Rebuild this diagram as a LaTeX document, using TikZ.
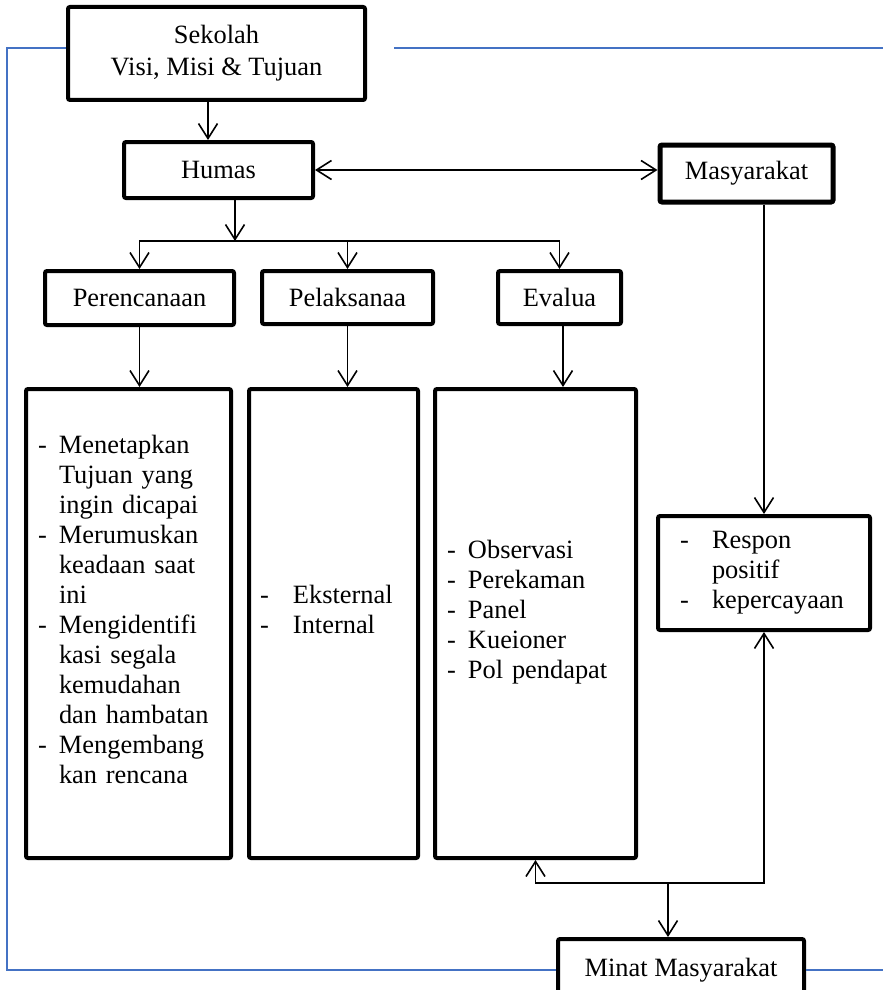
\documentclass[tikz,border=0pt]{standalone}
\usepackage{fontspec}
\setmainfont{Liberation Serif}
\usetikzlibrary{arrows.meta}
\definecolor{wordblue}{RGB}{68,114,196}
\tikzstyle{box} = [rectangle, draw=black, line width=2pt, rounded corners=1pt, align=center, inner sep=2pt]
\tikzstyle{listbox} = [box, align=left, inner xsep=6pt]
\tikzstyle{arrow} = [line width=0.8pt, -{Straight Barb[length=7.5pt,width=9.5pt]}]
\tikzstyle{twoway} = [line width=0.8pt, {Straight Barb[length=7.5pt,width=9.5pt]}-{Straight Barb[length=7.5pt,width=9.5pt]}]
\tikzstyle{feedback} = [line width=0.9pt, draw=wordblue]
\newcommand{\itemdash}[1][10.5pt]{\makebox[#1][l]{-}}
\newcommand{\itemgap}[1][10.5pt]{\hspace*{#1}}
\newcommand{\liftup}{\\[-1pt]\mbox{}}

\begin{document}
\begin{tikzpicture}[x=0.5pt, y=-0.5pt, font=\fontsize{13.2}{15}\selectfont]
\useasboundingbox (0,0) rectangle (883,990);

% Nodes
\node (sekolah) [box, minimum width=148.5pt, minimum height=46.5pt] at (216.5,53.5) {Sekolah\\[1pt]Visi, Misi \& Tujuan};
\node (humas) [box, minimum width=94.5pt, minimum height=28pt] at (218.5,170) {Humas};
\node (masyarakat) [box, line width=2.5pt, minimum width=86.5pt, minimum height=28.5pt] at (746.5,173.5) {Masyarakat};
\node (perencanaan) [box, minimum width=94.5pt, minimum height=27pt] at (139.5,298) {Perencanaan};
\node (pelaksanaa) [box, minimum width=85.5pt, minimum height=26.5pt] at (347.5,297.5) {Pelaksanaa};
\node (evalua) [box, minimum width=61.5pt, minimum height=26.5pt] at (559.5,297.5) {Evalua};
\node (planlist) [listbox, text width=90.5pt, minimum height=234.5pt] at (128.5,623.5) {\itemdash Menetapkan\\ \itemgap Tujuan yang\\ \itemgap ingin dicapai\\ \itemdash Merumuskan\\ \itemgap keadaan saat\\ \itemgap ini\\ \itemdash Mengidentifi\\ \itemgap kasi segala\\ \itemgap kemudahan\\ \itemgap dan hambatan\\ \itemdash Mengembang\\ \itemgap kan rencana\liftup};
\node (actlist) [listbox, inner xsep=5.5pt, text width=73.5pt, minimum height=234.5pt] at (333.5,623.5) {\itemdash[16.5pt]Eksternal\\ \itemdash[16.5pt]Internal\liftup};
\node (evallist) [listbox, text width=88.5pt, minimum height=234.5pt] at (535.5,623.5) {\itemdash Observasi\\ \itemdash Perekaman\\ \itemdash Panel\\ \itemdash Kueioner\\ \itemdash Pol pendapat\liftup};
\node (respon) [listbox, inner xsep=11pt, text width=84pt, minimum height=57pt] at (764,573) {\itemdash[16pt]Respon\\ \itemgap[16pt]positif\\ \itemdash[16pt]kepercayaan};
\node (minat) [box, minimum width=123pt, minimum height=31pt] at (681,970) {Minat Masyarakat};

\coordinate (split) at (235,241);
\coordinate (join) at (668,883);
\coordinate (leftrail) at (7,0);
\coordinate (rightrail) at (883,0);

% Arrows
\draw [arrow] ([xshift=-4.25pt]sekolah.south) -- ([xshift=-4.25pt]sekolah.south |- humas.north);
\draw [twoway] (humas.east) -- (humas.east -| masyarakat.west);
\draw [arrow] (humas.south -| split) -- (split);
\draw [arrow] (split) -| (perencanaan.north);
\draw [arrow] (split) -| (pelaksanaa.north);
\draw [arrow] (split) -| (evalua.north);
\draw [arrow] (perencanaan.south) -- (perencanaan.south |- planlist.north);
\draw [arrow] (pelaksanaa.south) -- (pelaksanaa.south |- actlist.north);
\draw [arrow] ([xshift=1.75pt]evalua.south) -- ([xshift=1.75pt]evalua.south |- evallist.north);
\draw [arrow] (masyarakat.south -| respon.north) -- (respon.north);
\draw [arrow] (join) -| (evallist.south);
\draw [arrow] (join) -| (respon.south);
\draw [arrow] (join) -- (join |- minat.north);

% Feedback lines
\draw [feedback] ([yshift=2.75pt]sekolah.west) -| (leftrail |- minat.west) -- (minat.west);
\draw [feedback] ([xshift=13.5pt,yshift=2.75pt]sekolah.east) -- ([yshift=2.75pt]rightrail |- sekolah.east);
\draw [feedback] (minat.east) -- (rightrail |- minat.east);

\end{tikzpicture}
\end{document}
